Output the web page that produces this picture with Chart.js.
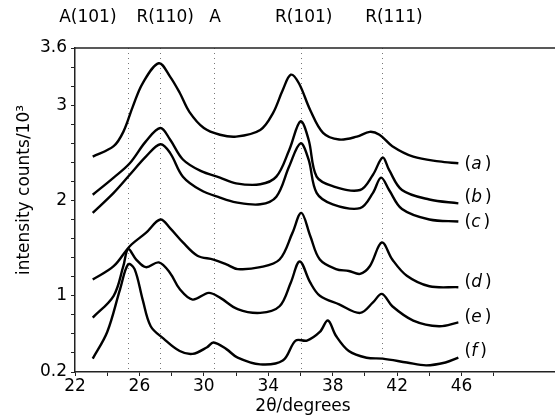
<!DOCTYPE html>
<html lang="en">
<head>
    <meta charset="UTF-8">
    <title>XRD patterns</title>
    <script src="https://cdn.jsdelivr.net/npm/chart.js"></script>
    <style>
        body { margin: 0; background: #fff; }
    </style>
</head>
<body>
    <canvas id="myChart" width="555" height="417"></canvas>

    <script>
        // values (2theta in degrees, intensity in 10^3 counts)
        const aX = [23.1, 24.4, 25.0, 25.6, 26.2, 27.2, 27.9, 28.5, 29.1, 30.0, 31.0, 32.0, 33.5, 34.3, 34.9, 35.4, 35.9, 36.6, 37.4, 38.4, 39.5, 40.3, 40.9, 41.7, 43.0, 44.6, 45.8];
        const aY = [2.46, 2.57, 2.72, 2.99, 3.23, 3.44, 3.30, 3.13, 2.93, 2.76, 2.69, 2.67, 2.74, 2.92, 3.16, 3.32, 3.23, 2.95, 2.71, 2.64, 2.67, 2.72, 2.69, 2.57, 2.46, 2.41, 2.39];

        const bX = [23.1, 24.4, 25.4, 26.4, 27.3, 27.9, 28.7, 29.8, 31.0, 32.0, 33.5, 34.5, 35.3, 36.0, 36.5, 37.0, 38.0, 39.7, 40.5, 41.1, 41.5, 42.3, 44.0, 45.8];
        const bY = [2.06, 2.24, 2.39, 2.62, 2.76, 2.64, 2.43, 2.31, 2.24, 2.18, 2.17, 2.25, 2.53, 2.83, 2.64, 2.25, 2.15, 2.11, 2.27, 2.45, 2.32, 2.11, 2.01, 1.97];

        const cX = [23.1, 24.4, 25.4, 26.4, 27.3, 27.9, 28.7, 29.8, 31.0, 32.0, 33.5, 34.5, 35.3, 36.0, 36.5, 37.0, 38.0, 39.7, 40.5, 41.0, 41.5, 42.3, 44.0, 45.8];
        const cY = [1.87, 2.08, 2.27, 2.46, 2.59, 2.50, 2.25, 2.11, 2.03, 1.98, 1.96, 2.04, 2.36, 2.60, 2.43, 2.08, 1.96, 1.92, 2.08, 2.24, 2.11, 1.91, 1.80, 1.78];

        const dX = [23.1, 24.4, 25.4, 26.4, 27.3, 27.9, 28.7, 29.6, 30.6, 31.4, 32.1, 33.5, 34.7, 35.5, 36.05, 36.6, 37.2, 38.2, 39.0, 39.7, 40.3, 41.05, 41.7, 42.6, 44.0, 45.8];
        const dY = [1.17, 1.31, 1.52, 1.66, 1.80, 1.71, 1.56, 1.42, 1.38, 1.33, 1.28, 1.30, 1.38, 1.66, 1.87, 1.63, 1.38, 1.28, 1.26, 1.23, 1.31, 1.56, 1.38, 1.21, 1.10, 1.09];

        const eX = [23.1, 24.4, 25.0, 25.3, 25.8, 26.4, 27.2, 27.9, 28.5, 29.3, 30.3, 31.0, 32.1, 33.5, 34.7, 35.4, 35.95, 36.6, 37.2, 38.4, 39.7, 40.5, 41.05, 41.7, 43.0, 44.6, 45.8];
        const eY = [0.77, 1.00, 1.31, 1.49, 1.38, 1.30, 1.35, 1.24, 1.07, 0.96, 1.03, 0.98, 0.86, 0.82, 0.89, 1.14, 1.36, 1.14, 1.00, 0.91, 0.82, 0.93, 1.02, 0.89, 0.74, 0.68, 0.72];

        const fX = [23.1, 24.0, 24.8, 25.3, 25.7, 26.2, 26.7, 27.5, 28.5, 29.3, 30.2, 30.6, 31.4, 32.1, 33.5, 34.9, 35.7, 36.4, 37.2, 37.7, 38.2, 39.0, 40.1, 41.1, 42.6, 43.8, 45.0, 45.8];
        const fY = [0.34, 0.62, 1.07, 1.33, 1.28, 0.96, 0.68, 0.55, 0.42, 0.39, 0.46, 0.51, 0.44, 0.35, 0.28, 0.32, 0.53, 0.53, 0.62, 0.74, 0.58, 0.42, 0.35, 0.34, 0.30, 0.27, 0.30, 0.35];

        const curveNames = ['a', 'b', 'c', 'd', 'e', 'f'];
        const curveLabelY = [2.38, 2.03, 1.77, 1.14, 0.77, 0.41];

        // reflection markers
        const peakNames = ['A(101)', 'R(110)', 'A', 'R(101)', 'R(111)'];
        const peakPos = [25.3, 27.3, 30.6, 36.0, 41.05];
        const peakTextPos = [22.8, 27.6, 30.7, 36.2, 41.8];

        const font = '"DejaVu Sans", "Liberation Sans", Arial, sans-serif';

        function pts(xs, ys) {
            return xs.map((x, i) => ({ x: x, y: ys[i] }));
        }
        const series = [[aX, aY], [bX, bY], [cX, cY], [dX, dY], [eX, eY], [fX, fY]];

        const decorations = {
            id: 'decorations',
            beforeDatasetsDraw(chart) {
                const { ctx, chartArea, scales } = chart;
                ctx.save();
                ctx.strokeStyle = '#777';
                ctx.lineWidth = 1;
                ctx.setLineDash([1, 4]);
                peakPos.forEach(p => {
                    const x = Math.round(scales.x.getPixelForValue(p)) + 0.5;
                    ctx.beginPath();
                    ctx.moveTo(x, chartArea.top);
                    ctx.lineTo(x, chartArea.bottom);
                    ctx.stroke();
                });
                ctx.restore();
            },
            afterDraw(chart) {
                const { ctx, chartArea, scales } = chart;
                ctx.save();
                // top frame line
                ctx.strokeStyle = '#222';
                ctx.lineWidth = 1.5;
                ctx.beginPath();
                ctx.moveTo(chartArea.left, chartArea.top);
                ctx.lineTo(chartArea.right, chartArea.top);
                ctx.stroke();

                ctx.fillStyle = '#000';
                ctx.font = '17px ' + font;
                ctx.textAlign = 'center';
                ctx.textBaseline = 'middle';
                peakNames.forEach((n, i) => {
                    ctx.fillText(n, scales.x.getPixelForValue(peakTextPos[i]), 18);
                });

                // curve labels
                ctx.textAlign = 'left';
                curveNames.forEach((n, i) => {
                    let x = scales.x.getPixelForValue(46) + 3;
                    const y = scales.y.getPixelForValue(curveLabelY[i]);
                    ctx.font = '17px ' + font;
                    ctx.fillText('(', x, y);
                    x += ctx.measureText('(').width;
                    ctx.font = 'italic 17px ' + font;
                    ctx.fillText(n, x, y);
                    x += ctx.measureText(n).width + 3;
                    ctx.font = '17px ' + font;
                    ctx.fillText(')', x, y);
                });

                // axis titles
                ctx.textAlign = 'center';
                ctx.font = '17px ' + font;
                ctx.fillText('2\u03b8/degrees', 303, 407);
                ctx.translate(25, 190);
                ctx.rotate(-Math.PI / 2);
                ctx.fillText('intensity counts/10\u00b3', 0, 0);
                ctx.restore();
            }
        };

        const ctx = document.getElementById('myChart').getContext('2d');
        const myChart = new Chart(ctx, {
            type: 'line',
            data: {
                datasets: series.map((s, i) => ({
                    label: curveNames[i],
                    data: pts(s[0], s[1]),
                    borderColor: '#000',
                    borderWidth: 2.4,
                    pointRadius: 0,
                    tension: 0.35,
                    fill: false
                }))
            },
            options: {
                responsive: false,
                animation: false,
                layout: { padding: { top: 48, right: 0, bottom: 0, left: 0 } },
                plugins: {
                    legend: { display: false },
                    tooltip: { enabled: false }
                },
                scales: {
                    x: {
                        type: 'linear',
                        min: 22,
                        max: 51.8,
                        afterFit: s => { s.height = 45; },
                        border: { color: '#222', width: 1.5 },
                        grid: { drawOnChartArea: false, drawTicks: true, tickLength: 4, color: '#222' },
                        ticks: {
                            stepSize: 2,
                            padding: 0,
                            color: '#000',
                            font: { family: font, size: 17 },
                            maxRotation: 0,
                            autoSkip: false,
                            callback: v => ((v - 22) % 4 === 0 ? v : '')
                        }
                    },
                    y: {
                        min: 0.2,
                        max: 3.6,
                        afterFit: s => { s.width = 75; },
                        border: { color: '#222', width: 1.5 },
                        grid: { drawOnChartArea: false, drawTicks: true, tickLength: 4, color: '#222' },
                        ticks: {
                            stepSize: 0.2,
                            padding: 4,
                            color: '#000',
                            font: { family: font, size: 17 },
                            autoSkip: false,
                            callback: v => {
                                const shown = [0.2, 1, 2, 3, 3.6];
                                const hit = shown.find(t => Math.abs(t - v) < 1e-6);
                                return hit !== undefined ? String(hit) : '';
                            }
                        }
                    }
                }
            },
            plugins: [decorations]
        });
    </script>
</body>
</html>
